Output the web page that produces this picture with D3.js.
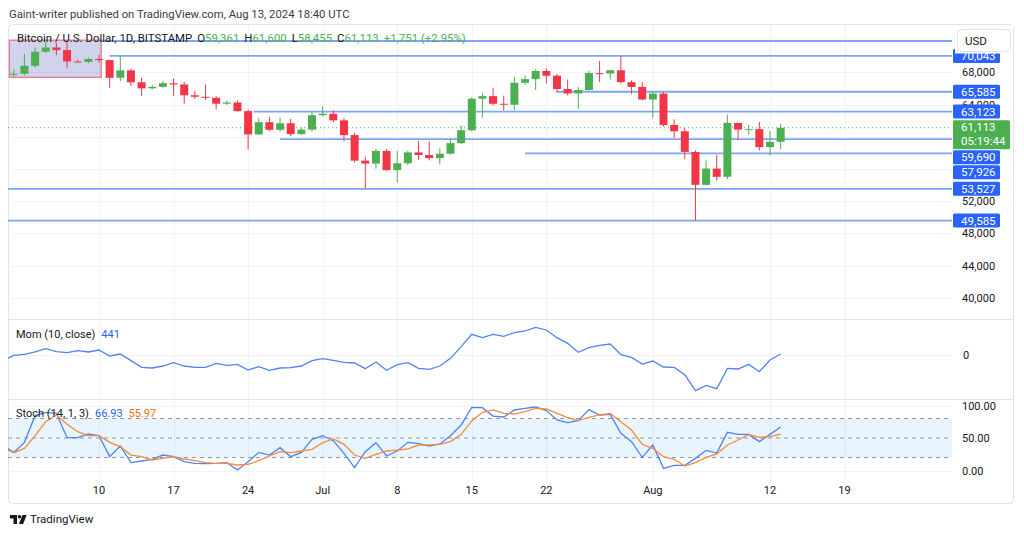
<!DOCTYPE html>
<html>
<head>
<meta charset="utf-8">
<script src="https://cdn.jsdelivr.net/npm/d3@7"></script>
<style>
  body { margin: 0; background: #fff; }
  svg { display: block; font-family: Roboto, "Noto Sans", sans-serif; }
</style>
</head>
<body>
<svg id="chart" width="1024" height="536"></svg>
<script>
// daily BTCUSD candles, Jun 1 .. Aug 13 2024 (Jun 1 sits just off the left edge)
let days = d3.utcDay.range(new Date(Date.UTC(2024, 5, 1)), new Date(Date.UTC(2024, 7, 14)));

let open = [67530, 67760, 67820, 68810, 70560, 71080, 70760, 69340, 69300, 69650,
  69520, 67320, 68240, 66760, 66010, 66190, 66640, 66490, 65150, 64960,
  64830, 64100, 64250, 63180, 60280, 61800, 60860, 61670, 60320, 60880,
  62670, 62850, 62030, 60200, 57030, 56660, 58230, 55850, 56700, 58050,
  57720, 57340, 57890, 59200, 60800, 64720, 65040, 64090, 63970, 66700,
  67150, 68160, 67580, 65930, 65370, 65800, 67900, 67850, 68250, 66780,
  66180, 64620, 65350, 61460, 60680, 58110, 54020, 56040, 55020, 61710,
  60880, 60940, 58710, 59361];
let high = [67860, 68410, 70300, 71080, 71760, 71620, 71990, 69570, 69850, 70160,
  69560, 70000, 68450, 67300, 66400, 66920, 67250, 66800, 65700, 66480,
  65030, 64510, 64520, 63370, 62300, 62480, 62370, 62200, 61150, 63050,
  63780, 63260, 62280, 60490, 57500, 58470, 58480, 58230, 58270, 59450,
  59400, 58550, 59820, 61400, 64900, 65380, 66100, 65100, 67400, 67600,
  68380, 68480, 67800, 67100, 66150, 68200, 69400, 68300, 70050, 67000,
  66800, 65600, 65560, 62150, 61100, 58300, 57050, 57730, 62750, 61750,
  61460, 61850, 60700, 61600];
let low = [67440, 67420, 67620, 68560, 70390, 70120, 68500, 69220, 69130, 69220,
  66080, 66900, 66300, 65060, 65870, 66100, 65100, 64060, 64700, 64580,
  63400, 63950, 63100, 58450, 60250, 60700, 60620, 60050, 60270, 60640,
  62550, 61790, 59420, 56800, 53550, 56030, 55730, 54290, 56450, 57170,
  57050, 56560, 57770, 59100, 60650, 62400, 63900, 63250, 63300, 66430,
  65800, 66600, 65450, 65130, 63450, 65750, 66800, 67100, 66600, 65320,
  64530, 62300, 61250, 59850, 57200, 49580, 53950, 54560, 54740, 59580,
  60260, 58300, 57650, 58455];
let close = [67760, 67820, 68810, 70560, 71080, 70760, 69340, 69300, 69650, 69520,
  67320, 68240, 66760, 66010, 66190, 66640, 66490, 65150, 64960, 64830,
  64100, 64250, 63180, 60280, 61800, 60860, 61670, 60320, 60880, 62670,
  62850, 62030, 60200, 57030, 56660, 58230, 55850, 56700, 58050, 57720,
  57340, 57890, 59200, 60800, 64720, 65040, 64090, 63970, 66700, 67150,
  68160, 67580, 65930, 65370, 65800, 67900, 67850, 68250, 66780, 66180,
  64620, 65350, 61460, 60680, 58110, 54020, 56040, 55020, 61710, 60880,
  60940, 58710, 59362, 61113];

// Mom (10, close)
let mom = [-2200, -90, 300, 1210, 2500, 1340, 950, 1730, 1210, 1990,
  -350, 430, -2170, -4770, -5030, -4250, -2950, -4250, -4770, -4770,
  -3210, -3990, -3600, -5810, -4510, -5940, -5030, -4900, -4250, -2170,
  -1390, -2040, -2820, -3080, -5290, -2690, -5940, -3730, -2950, -5160,
  -5550, -4250, -1260, 3290, 8090, 6790, 8090, 7310, 8740, 9390,
  10820, 9780, 6790, 4590, 1080, 2900, 3810, 4330, 170, -870,
  -3470, -2300, -4640, -4770, -7630, -13860, -11780, -13080, -5160, -5420,
  -3600, -6460, -1910, 441];

// Stoch (14, 1, 3)
let stochK = [38, 27.9, 43.3, 84.4, 89.5, 87.9, 50.5, 50.5, 56.2, 53.6,
  21.3, 37.7, 12.1, 14.6, 17.2, 23.8, 21.3, 13.6, 11.0, 10.5,
  11.0, 12.1, 0.8, 13.6, 27.9, 23.8, 35.1, 21.3, 27.9, 47.9,
  53.6, 45.9, 26.4, 4.4, 29.0, 42.8, 22.3, 30.0, 43.3, 41.3,
  37.7, 40.8, 53.6, 70.0, 97.2, 96.7, 83.8, 82.3, 93.1, 95.6,
  97.7, 92.1, 77.7, 73.6, 76.7, 93.6, 85.4, 86.4, 57.2, 44.4,
  20.3, 39.2, 3.3, 7.9, 7.9, 18.7, 31.0, 26.9, 58.7, 55.6,
  55.6, 44.4, 55.6, 66.93];
let stochD = [35, 27.4, 34.1, 53.6, 75.1, 85.4, 71.0, 59.7, 53.6, 53.6,
  43.3, 36.7, 23.8, 21.3, 16.2, 18.7, 21.3, 17.7, 15.1, 12.1,
  11.0, 11.0, 8.5, 9.5, 15.1, 22.3, 29.0, 27.4, 30.0, 32.6,
  42.8, 48.5, 40.3, 23.8, 18.7, 24.9, 30.0, 31.5, 33.1, 39.2,
  39.2, 40.3, 44.4, 55.6, 76.2, 89.5, 93.1, 87.9, 86.9, 90.5,
  95.6, 94.6, 87.9, 81.3, 76.7, 81.8, 85.4, 87.9, 75.1, 62.3,
  40.3, 34.1, 21.3, 17.2, 6.9, 12.1, 20.3, 25.4, 39.2, 46.9,
  55.6, 51.0, 52.1, 55.97];

// horizontal rays drawn on the chart (null start = from left edge)
let levelValues = [71890, 70043, 65585, 63123, 59690, 57926, 53527, 49585];
let levelStarts = ['2024-06-10', '2024-06-11', '2024-07-23', '2024-06-24T12:00Z', '2024-06-27', '2024-07-20', null, null];

let priceTicks = [40000, 44000, 48000, 52000, 56000, 60000, 64000, 68000, 72000];
let stochTicks = [0, 50, 100];
let xTickDates = ['2024-06-10', '2024-06-17', '2024-06-24', '2024-07-01', '2024-07-08', '2024-07-15', '2024-07-22', '2024-08-01', '2024-08-12', '2024-08-19'];
let xTickLabels = ['10', '17', '24', 'Jul', '8', '15', '22', 'Aug', '12', '19'];

// rectangle drawing in the top-left corner
let boxDates = ['2024-06-01T14:00Z', '2024-06-10T05:00Z'];
let boxPrices = [67380, 71990];

const green = '#4caf50', red = '#f23645', blue = '#2962ff', orange = '#ff6d00';
const textCol = '#131722', gridCol = '#f0f3fa', lineCol = '#e0e3eb';
const plotL = 8, plotR = 952;

let svg = d3.select('#chart');
let fmt = d3.format(',');

let x = d3.scaleUtc()
  .domain([new Date('2024-06-10'), new Date('2024-08-12')])
  .range([99, 770]);
let y = d3.scaleLinear().domain([40000, 68000]).range([297.7, 72.3]);
let yMom = d3.scaleLinear().domain([-17100, 14060]).range([399, 319]);
let ySto = d3.scaleLinear().domain([0, 100]).range([470.5, 405.5]);

let defs = svg.append('defs');
function clip(id, top, bottom) {
  defs.append('clipPath').attr('id', id)
    .append('rect').attr('x', plotL).attr('y', top).attr('width', plotR - plotL).attr('height', bottom - top);
}
clip('cPrice', 25, 319);
clip('cMom', 319, 399);
clip('cSto', 399, 483);

// header
svg.append('text').attr('x', 9).attr('y', 18)
  .attr('font-size', 11.3).attr('fill', '#3b3b3b')
  .text('Gaint-writer published on TradingView.com, Aug 13, 2024 18:40 UTC');

// frame
svg.append('rect').attr('x', 8.5).attr('y', 24.5).attr('width', 1005).attr('height', 479)
  .attr('rx', 4).attr('fill', 'none').attr('stroke', lineCol);

// grid
let grid = svg.append('g');
grid.selectAll('line.v').data(xTickDates).join('line')
  .attr('x1', d => Math.round(x(new Date(d))) + 0.5).attr('x2', d => Math.round(x(new Date(d))) + 0.5)
  .attr('y1', 25).attr('y2', 483).attr('stroke', gridCol);
grid.selectAll('line.h').data(priceTicks).join('line')
  .attr('x1', plotL).attr('x2', plotR)
  .attr('y1', d => Math.round(y(d)) + 0.5).attr('y2', d => Math.round(y(d)) + 0.5)
  .attr('stroke', gridCol);
grid.append('line').attr('x1', plotL).attr('x2', plotR)
  .attr('y1', Math.round(yMom(0)) + 0.5).attr('y2', Math.round(yMom(0)) + 0.5).attr('stroke', gridCol);
grid.selectAll('line.s').data([0, 100]).join('line')
  .attr('x1', plotL).attr('x2', plotR)
  .attr('y1', d => Math.round(ySto(d)) + 0.5).attr('y2', d => Math.round(ySto(d)) + 0.5)
  .attr('stroke', gridCol);

// pane separators
[319, 399].forEach(v => {
  svg.append('line').attr('x1', plotL).attr('x2', 1014).attr('y1', v + 0.5).attr('y2', v + 0.5).attr('stroke', lineCol);
});

// ---- price pane
let pg = svg.append('g').attr('clip-path', 'url(#cPrice)');

pg.append('rect')
  .attr('x', x(new Date(boxDates[0]))).attr('y', y(boxPrices[1]))
  .attr('width', x(new Date(boxDates[1])) - x(new Date(boxDates[0])))
  .attr('height', y(boxPrices[0]) - y(boxPrices[1]))
  .attr('fill', 'rgba(63,81,181,0.25)').attr('stroke', '#ea7a84').attr('stroke-width', 1.3);

pg.selectAll('line.lvl').data(levelValues).join('line')
  .attr('x1', (d, i) => levelStarts[i] ? x(new Date(levelStarts[i])) : plotL)
  .attr('x2', plotR)
  .attr('y1', d => y(d)).attr('y2', d => y(d))
  .attr('stroke', '#7ea5f7').attr('stroke-width', 1.8);

// last price line
pg.append('line').attr('x1', plotL).attr('x2', plotR)
  .attr('y1', y(close[close.length - 1])).attr('y2', y(close[close.length - 1]))
  .attr('stroke', green).attr('stroke-dasharray', '1,3');

let cw = 8;
let candle = pg.selectAll('g.candle').data(days).join('g');
candle.append('line')
  .attr('x1', d => x(d)).attr('x2', d => x(d))
  .attr('y1', (d, i) => y(high[i])).attr('y2', (d, i) => y(low[i]))
  .attr('stroke', (d, i) => close[i] >= open[i] ? green : red);
candle.append('rect')
  .attr('x', d => x(d) - cw / 2).attr('width', cw)
  .attr('y', (d, i) => y(Math.max(open[i], close[i])))
  .attr('height', (d, i) => Math.max(1, Math.abs(y(open[i]) - y(close[i]))))
  .attr('fill', (d, i) => close[i] >= open[i] ? green : red);

// ---- mom pane
let mg = svg.append('g').attr('clip-path', 'url(#cMom)');
mg.append('path').datum(mom)
  .attr('d', d3.line().x((d, i) => x(days[i])).y(d => yMom(d)))
  .attr('fill', 'none').attr('stroke', '#4f83f5').attr('stroke-width', 1.3);

// ---- stoch pane
let sg = svg.append('g').attr('clip-path', 'url(#cSto)');
sg.append('rect').attr('x', plotL).attr('width', plotR - plotL)
  .attr('y', ySto(80)).attr('height', ySto(20) - ySto(80))
  .attr('fill', 'rgba(33,150,243,0.1)');
sg.selectAll('line.band').data([80, 50, 20]).join('line')
  .attr('x1', plotL).attr('x2', plotR)
  .attr('y1', d => ySto(d)).attr('y2', d => ySto(d))
  .attr('stroke', '#9598a1').attr('stroke-dasharray', '4,4');
sg.append('path').datum(stochK)
  .attr('d', d3.line().x((d, i) => x(days[i])).y(d => ySto(d)))
  .attr('fill', 'none').attr('stroke', '#4f83f5').attr('stroke-width', 1.3);
sg.append('path').datum(stochD)
  .attr('d', d3.line().x((d, i) => x(days[i])).y(d => ySto(d)))
  .attr('fill', 'none').attr('stroke', '#f98a3a').attr('stroke-width', 1.3);

// ---- legends
let n = close.length - 1;
let chg = close[n] - close[n - 1];
let leg = svg.append('text').attr('x', 17).attr('y', 42).attr('font-size', 11.4).attr('fill', textCol);
leg.append('tspan').text('Bitcoin / U.S. Dollar, 1D, BITSTAMP');
[['O', open[n]], ['H', high[n]], ['L', low[n]], ['C', close[n]]].forEach(p => {
  leg.append('tspan').attr('dx', 5).text(p[0]);
  leg.append('tspan').attr('fill', green).text(fmt(p[1]));
});
leg.append('tspan').attr('dx', 5).attr('fill', green)
  .text((chg >= 0 ? '+' : '') + fmt(chg) + ' (+' + d3.format('.2f')(chg / close[n - 1] * 100) + '%)');

let ml = svg.append('text').attr('x', 16).attr('y', 338).attr('font-size', 11).attr('fill', textCol);
ml.append('tspan').text('Mom (10, close)');
ml.append('tspan').attr('dx', 6).attr('fill', blue).text(fmt(mom[n]));

let sl = svg.append('text').attr('x', 16).attr('y', 417).attr('font-size', 11).attr('fill', textCol);
sl.append('tspan').text('Stoch (14, 1, 3)');
sl.append('tspan').attr('dx', 6).attr('fill', blue).text(d3.format('.2f')(stochK[n]));
sl.append('tspan').attr('dx', 6).attr('fill', orange).text(d3.format('.2f')(stochD[n]));

// coloured price tags, pushed down when they collide
let tags = levelValues.map(v => ({ y: y(v), h: 14, lines: [fmt(v)], fill: blue, w: 47, off: 7 }));
tags.push({ y: y(close[n]), h: 29, lines: [fmt(close[n]), '05:19:44'], fill: green, w: 57, off: 7.5 });
tags.sort((a, b) => a.y - b.y);
let prevBottom = -Infinity;
tags.forEach(t => {
  t.top = Math.max(t.y - t.off, prevBottom + 1);
  prevBottom = t.top + t.h;
});

// currency button area on the scale
let usdBox = { top: 29.5, bottom: 53.5 };

// ---- right scale (tick labels hidden where a tag or the button sits on them)
let covered = v => y(v) < usdBox.bottom || tags.some(t => y(v) > t.top && y(v) < t.top + t.h);
let axis = svg.append('g').attr('font-size', 11).attr('fill', textCol);
axis.selectAll('text.p').data(priceTicks.filter(v => !covered(v))).join('text')
  .attr('x', 962).attr('y', d => y(d) + 4).text(d => fmt(d));
axis.append('text').attr('x', 963).attr('y', yMom(0) + 4).text('0');
axis.selectAll('text.s').data(stochTicks).join('text')
  .attr('x', 962).attr('y', d => ySto(d) + 4).text(d => d3.format('.2f')(d));

let tg = svg.append('g');
tags.forEach(t => {
  if (t.top + t.h < usdBox.bottom) return; // fully under the button
  tg.append('rect').attr('x', 953).attr('y', t.top).attr('width', t.w).attr('height', t.h)
    .attr('rx', 1.5).attr('fill', t.fill);
  t.lines.forEach((s, j) => {
    tg.append('text').attr('x', 961).attr('y', t.top + 11 + j * 14)
      .attr('font-size', 11.5).attr('fill', '#fff').text(s);
  });
});

// currency button
svg.append('rect').attr('x', 955).attr('y', 25).attr('width', 58).attr('height', usdBox.bottom - 25)
  .attr('fill', '#fff');
svg.append('rect').attr('x', 957.5).attr('y', usdBox.top).attr('width', 53).attr('height', 22)
  .attr('rx', 4).attr('fill', '#fff').attr('stroke', lineCol);
svg.append('text').attr('x', 965).attr('y', 45).attr('font-size', 11.5).attr('fill', textCol).text('USD');

// time axis
svg.append('g').attr('font-size', 11).attr('fill', textCol).attr('text-anchor', 'middle')
  .selectAll('text').data(xTickDates).join('text')
  .attr('x', d => x(new Date(d))).attr('y', 494)
  .text((d, i) => xTickLabels[i]);

// footer logo
let logo = svg.append('g').attr('fill', textCol);
logo.append('path').attr('d', 'M10,515h7v9h-3.5v-5.5H10z');
logo.append('circle').attr('cx', 19.5).attr('cy', 516.8).attr('r', 1.8);
logo.append('path').attr('d', 'M22.5,515h4.2l-3.6,9h-4.2z');
svg.append('text').attr('x', 30).attr('y', 523).attr('font-size', 11.5).attr('fill', textCol).text('TradingView');
</script>
</body>
</html>
